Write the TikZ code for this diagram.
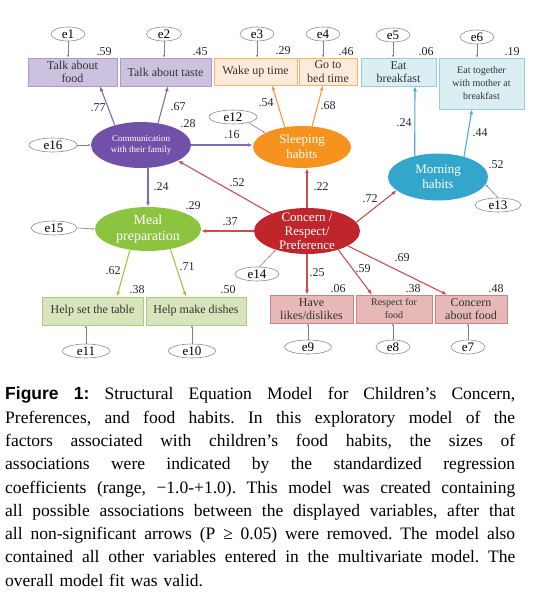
\documentclass[tikz,border=0pt]{standalone}
\usepackage{fontspec}
\setmainfont{Liberation Serif}
\newfontfamily\figfont{Liberation Sans}
\usepackage{tikz}
\usetikzlibrary{shapes.geometric,arrows.meta}
\definecolor{purpbox}{RGB}{204,193,222}
\definecolor{purpedge}{RGB}{170,155,205}
\definecolor{purpell}{RGB}{112,80,168}
\definecolor{purparr}{RGB}{128,108,180}
\definecolor{peachbox}{RGB}{253,234,218}
\definecolor{peachedge}{RGB}{247,176,110}
\definecolor{orangeell}{RGB}{246,146,30}
\definecolor{orangearr}{RGB}{247,150,70}
\definecolor{bluebox}{RGB}{219,238,244}
\definecolor{blueedge}{RGB}{150,205,225}
\definecolor{blueell}{RGB}{52,166,204}
\definecolor{bluearr}{RGB}{75,172,210}
\definecolor{greenbox}{RGB}{216,228,188}
\definecolor{greenedge}{RGB}{178,200,130}
\definecolor{greenell}{RGB}{140,196,63}
\definecolor{greenarr}{RGB}{160,196,80}
\definecolor{pinkbox}{RGB}{230,184,183}
\definecolor{pinkedge}{RGB}{205,130,130}
\definecolor{redell}{RGB}{190,38,44}
\definecolor{redarr}{RGB}{198,80,80}
\newcommand{\capline}[1]{\hbox to 510pt{\frenchspacing\spaceskip=4.4pt plus 20pt minus 1pt\relax #1}}

\begin{document}
\begin{tikzpicture}[x=1pt,y=-1pt,
  err/.style={ellipse,draw=black!45,line width=0.6pt,fill=white,inner sep=0pt,minimum height=14pt,font=\fontsize{13}{13}\selectfont},
  obs/.style={rectangle,line width=0.6pt,inner sep=0pt,align=center,text=black!80,font=\fontsize{12}{13.5}\selectfont},
  lat/.style={ellipse,inner sep=0pt},
  lattext/.style={align=center,text=white,inner sep=0pt},
  num/.style={inner sep=0pt,text=black!85,font=\fontsize{12}{12}\selectfont},
  arr/.style={-{Latex[length=5pt,width=4pt]},line width=1.1pt},
  errarr/.style={-{Latex[length=2.5pt,width=2pt]},black!50,line width=0.6pt}]
\useasboundingbox (0,0) rectangle (544,604);

\node[err,minimum width=34pt] (e1) at (68,34) {e1};
\node[err,minimum width=35pt] (e2) at (164,34) {e2};
\node[err,minimum width=34pt] (e3) at (257,34) {e3};
\node[err,minimum width=34pt] (e4) at (323,34) {e4};
\node[err,minimum width=34pt] (e5) at (393,35) {e5};
\node[err,minimum width=34pt] (e6) at (477,37) {e6};

\node[obs,fill=purpbox,draw=purpedge,minimum width=89pt,minimum height=28pt] (food) at (72.5,72) {Talk about\\food};
\node[obs,fill=purpbox,draw=purpedge,minimum width=91pt,minimum height=28pt] (taste) at (165.5,72) {Talk about taste};
\node[obs,fill=peachbox,draw=peachedge,minimum width=83pt,minimum height=27pt] (wake) at (255.5,71.5) {Wake up time};
\node[obs,fill=peachbox,draw=peachedge,minimum width=58pt,minimum height=27pt] (bed) at (328,71.5) {Go to\\bed time};
\node[obs,fill=bluebox,draw=blueedge,minimum width=75pt,minimum height=28pt] (breakfast) at (398.5,72) {Eat\\breakfast};
\node[obs,fill=bluebox,draw=blueedge,minimum width=85pt,minimum height=51pt,font=\fontsize{10}{13}\selectfont] (mother) at (481.5,83.5) {Eat together\\with mother at\\breakfast};

\node[num] (v1) at (104,52) {.59};
\node[num] (v2) at (200,52) {.45};
\node[num] (v3) at (283,51) {.29};
\node[num] (v4) at (346,52) {.46};
\node[num] (v5) at (426,52) {.06};
\node[num] (v6) at (512,52) {.19};

\node[lat,fill=purpell,minimum width=100pt,minimum height=46pt] (comm) at (141,145) {};
\node[lattext,font=\fontsize{9}{11.5}\selectfont] (commtx) at (comm) {Communication\\with their family};
\node[lat,fill=orangeell,minimum width=98pt,minimum height=42pt] (sleep) at (302,147) {};
\node[lattext,font=\fontsize{13}{15}\selectfont] (sleeptx) at (sleep) {Sleeping\\habits};
\node[lat,fill=blueell,minimum width=100pt,minimum height=47pt] (morning) at (438,177) {};
\node[lattext,font=\fontsize{13}{15}\selectfont] (morningtx) at (morning) {Morning\\habits};
\node[lat,fill=greenell,minimum width=106pt,minimum height=44pt] (meal) at (148,229) {};
\node[lattext,font=\fontsize{14}{16}\selectfont] (mealtx) at (meal) {Meal\\preparation};
\node[lat,fill=redell,minimum width=106pt,minimum height=46pt] (concern) at (307,231) {};
\node[lattext,font=\fontsize{13}{14}\selectfont] (concerntx) at (concern) {Concern /\\Respect/\\Preference};

\node[num] (v7) at (188,124) {.28};
\node[num] (v8) at (193,206) {.29};
\node[num] (v9) at (496,165) {.52};

\node[err,minimum width=48pt] (e12) at (233,117) {e12};
\node[err,minimum width=48pt] (e16) at (53,145) {e16};
\node[err,minimum width=46pt] (e15) at (54,228) {e15};
\node[err,minimum width=46pt] (e13) at (498,205) {e13};
\node[err,minimum width=44pt] (e14) at (257,274) {e14};

\node[obs,fill=greenbox,draw=greenedge,minimum width=101pt,minimum height=28pt] (table) at (92.5,311) {Help set the table};
\node[obs,fill=greenbox,draw=greenedge,minimum width=100pt,minimum height=28pt] (dishes) at (196,311) {Help make dishes};
\node[obs,fill=pinkbox,draw=pinkedge,minimum width=83pt,minimum height=28pt] (likes) at (311.5,309) {Have\\likes/dislikes};
\node[obs,fill=pinkbox,draw=pinkedge,minimum width=76pt,minimum height=28pt,font=\fontsize{10}{13}\selectfont] (respect) at (394,309) {Respect for\\food};
\node[obs,fill=pinkbox,draw=pinkedge,minimum width=72pt,minimum height=28pt] (cfood) at (471,309) {Concern\\about food};

\node[num] (v10) at (137,290) {.38};
\node[num] (v11) at (228,290) {.50};
\node[num] (v12) at (338,289) {.06};
\node[num] (v13) at (413,289) {.38};
\node[num] (v14) at (496,289) {.48};

\node[err,minimum width=47pt] (e11) at (86,351) {e11};
\node[err,minimum width=47pt] (e10) at (192,351) {e10};
\node[err,minimum width=47pt] (e9) at (308,347) {e9};
\node[err,minimum width=34pt] (e8) at (393,347) {e8};
\node[err,minimum width=34pt] (e7) at (468,347) {e7};

\draw[arr,purparr] (comm.143) -- ([xshift=27.5pt]food.south);
\draw[arr,purparr] (comm.52) -- ([xshift=2.5pt]taste.south);
\draw[arr,orangearr] (sleep.131) -- ([xshift=16.5pt]wake.south);
\draw[arr,orangearr] (sleep.64) -- ([xshift=-5pt]bed.south);
\draw[arr,bluearr] (morning.138) -- ([xshift=16.5pt]breakfast.south);
\draw[arr,bluearr] (morning.38) -- ([xshift=-9.5pt]mother.south);
\draw[arr,purparr] (comm.east) -- (comm.east -| sleep.west);
\draw[arr,purparr] (meal.north |- comm.south) -- (meal.north);
\draw[arr,redarr] (concern.154) -- (comm.-23);
\draw[arr,redarr] (concern.west) -- (concern.west -| meal.east);
\draw[arr,redarr] (concern.north) -- (concern.north |- sleep.south);
\draw[arr,redarr] (concern.10) -- (morning.198);
\draw[arr,greenarr] (meal.229) -- ([xshift=24.5pt]table.north);
\draw[arr,greenarr] (meal.-42) -- ([xshift=-10pt]dishes.north);
\draw[arr,redarr] (concern.south) -- (concern.south |- likes.north);
\draw[arr,redarr] (concern.-31) -- ([xshift=-22pt]respect.north);
\draw[arr,redarr] (concern.-20) -- ([xshift=-24pt]cfood.north);

\node[num] (p1) at (98,108) {.77};
\node[num] (p2) at (178,107) {.67};
\node[num] (p3) at (266,103) {.54};
\node[num] (p4) at (328,106) {.68};
\node[num] (p5) at (404,123) {.24};
\node[num] (p6) at (480,133) {.44};
\node[num] (p7) at (232,135) {.16};
\node[num] (p8) at (161,187) {.24};
\node[num] (p9) at (237,183) {.52};
\node[num] (p10) at (230,222) {.37};
\node[num] (p11) at (321,187) {.22};
\node[num] (p12) at (370,199) {.72};
\node[num] (p13) at (113,271) {.62};
\node[num] (p14) at (187,267) {.71};
\node[num] (p15) at (317,273) {.25};
\node[num] (p16) at (363,269) {.59};
\node[num] (p17) at (402,258) {.69};

\draw[errarr] (e1.south) -- (e1.south |- food.north);
\draw[errarr] (e2.south) -- (e2.south |- taste.north);
\draw[errarr] (e3.south) -- (e3.south |- wake.north);
\draw[errarr] (e4.south) -- (e4.south |- bed.north);
\draw[errarr] (e5.south) -- (e5.south |- breakfast.north);
\draw[errarr] (e6.south) -- (e6.south |- mother.north);
\draw[errarr] (e12.-20) -- (sleep.159);
\draw[errarr] (e16.east) -- (comm.west);
\draw[errarr] (e15.east) -- (meal.west);
\draw[errarr] (e13.north) -- (morning.-9);
\draw[errarr] (e14.70) -- (concern.211);
\draw[errarr] (e11.north) -- (e11.north |- table.south);
\draw[errarr] (e10.north) -- (e10.north |- dishes.south);
\draw[errarr] (e9.north) -- (e9.north |- likes.south);
\draw[errarr] (e8.north) -- (e8.north |- respect.south);
\draw[errarr] (e7.north) -- (e7.north |- cfood.south);

\node[anchor=north west,inner sep=0pt,text width=510pt,font=\fontsize{17.5}{23.3}\selectfont] (caption) at (5,387) {%
\capline{{\figfont\bfseries Figure 1:} Structural Equation Model for Children’s Concern,}
\capline{Preferences, and food habits. In this exploratory model of the}
\capline{factors associated with children’s food habits, the sizes of}
\capline{associations were indicated by the standardized regression}
\capline{coefficients (range, −1.0-+1.0). This model was created containing}
\capline{all possible associations between the displayed variables, after that}
\capline{all non-significant arrows (P ≥ 0.05) were removed. The model also}
\capline{contained all other variables entered in the multivariate model. The}
\hbox{overall model fit was valid.}};
\end{tikzpicture}
\end{document}
